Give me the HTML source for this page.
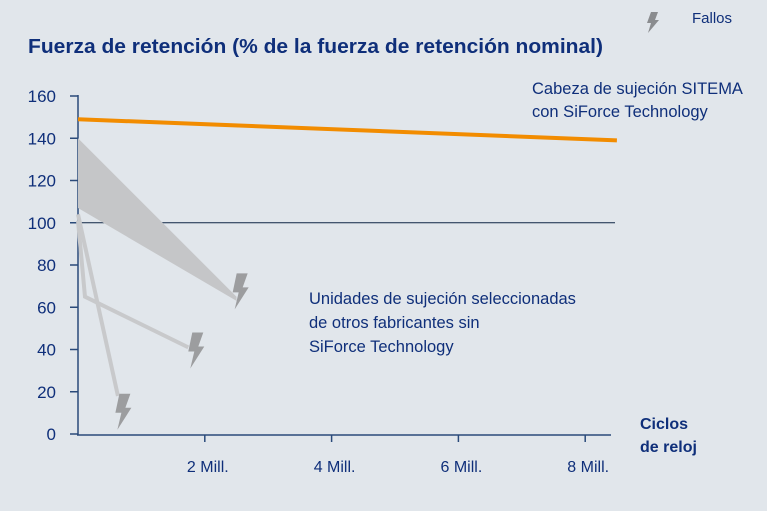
<!DOCTYPE html>
<html><head><meta charset="utf-8"><style>
html,body{margin:0;padding:0;background:#e1e6eb;}
svg{display:block;font-family:"Liberation Sans",sans-serif;}
</style></head><body>
<svg width="767" height="511" viewBox="0 0 767 511">
<rect width="767" height="511" fill="#e1e6eb"/>
<text x="28" y="53" font-size="20.5" font-weight="bold" fill="#0f2f7a" textLength="575" lengthAdjust="spacingAndGlyphs">Fuerza de retención (% de la fuerza de retención nominal)</text>
<g id="legend">
<polygon points="651,12 658,12 655,20 659,20 648,33 651,23 647,23" fill="#8a8c8f"/>
<text x="692" y="23" font-size="15" fill="#0f2f7a">Fallos</text>
</g>
<g id="axes"></g>
<g id="marks"></g>
<text x="532" y="94" font-size="16.5" fill="#0f2f7a">Cabeza de sujeción SITEMA</text>
<text x="532" y="117" font-size="16.5" fill="#0f2f7a">con SiForce Technology</text>
<text x="309" y="304" font-size="16.5" fill="#0f2f7a">Unidades de sujeción seleccionadas</text>
<text x="309" y="328" font-size="16.5" fill="#0f2f7a">de otros fabricantes sin</text>
<text x="309" y="352" font-size="16.5" fill="#0f2f7a">SiForce Technology</text>
<text x="640" y="429" font-size="16" font-weight="bold" fill="#0f2f7a">Ciclos</text>
<text x="640" y="452" font-size="16" font-weight="bold" fill="#0f2f7a">de reloj</text>
</svg>
<script>
const yTicks=[0,20,40,60,80,100,120,140,160];
const xTicks=[2,4,6,8];
const xTickLabels=["2  Mill.","4  Mill.","6  Mill.","8  Mill."];
const sitemaX=[0,8.5];
const sitemaY=[149,139];
const bandUpperX=[0,2.5];
const bandUpperY=[140,65];
const bandLowerX=[0,2.5];
const bandLowerY=[107,63];
const failA_X=[0,0.11,1.74];
const failA_Y=[101,65,41];
const failB_X=[0,0.63];
const failB_Y=[104,18];
const failPointsX=[2.55,1.85,0.7];
const failPointsY=[68,40,11];
const X=v=>78+v*63.4;
const Y=v=>434-v*2.1125;
const NS="http://www.w3.org/2000/svg";
const axes=document.getElementById('axes'),marks=document.getElementById('marks');
function mk(p,tag,attrs){const e=document.createElementNS(NS,tag);for(const k in attrs)e.setAttribute(k,attrs[k]);p.appendChild(e);return e;}
let e;
e=mk(axes,'line',{x1:78,y1:Y(160)-1,x2:78,y2:435,stroke:'#2a4a7a','stroke-width':1.5});


e=mk(axes,'line',{x1:77,y1:435,x2:611,y2:435,stroke:'#2a4a7a','stroke-width':1.5});


e=mk(axes,'line',{x1:78,y1:Y(100),x2:615,y2:Y(100),stroke:'#0f2545','stroke-width':1});


yTicks.forEach(t=>{
 e=mk(axes,'line',{x1:70,y1:Y(t),x2:78,y2:Y(t),stroke:'#2a4a7a','stroke-width':1.5});
 
 
 e=mk(axes,'text',{x:56,y:Y(t)+6,'font-size':17,fill:'#0f2f7a','text-anchor':'end'});
 e.textContent=t;
 
 
});
xTicks.forEach((t,i)=>{
 e=mk(axes,'line',{x1:X(t),y1:435,x2:X(t),y2:442,stroke:'#2a4a7a','stroke-width':1.5});
 
 
 e=mk(axes,'text',{x:X(t)+3,y:472,'font-size':16,fill:'#0f2f7a','text-anchor':'middle','xml:space':'preserve'});
 e.textContent=xTickLabels[i];
 
 
});
let pts=bandUpperX.map((x,i)=>X(x)+','+Y(bandUpperY[i]));
pts=pts.concat(bandLowerX.map((x,i)=>X(x)+','+Y(bandLowerY[i])).reverse());
e=mk(marks,'polygon',{points:pts.join(' '),fill:'#c5c6c8'});


[[failA_X,failA_Y,'competitor-line-a'],[failB_X,failB_Y,'competitor-line-b']].forEach(([xs,ys,n])=>{
 e=mk(marks,'polyline',{points:xs.map((x,i)=>X(x)+','+Y(ys[i])).join(' '),fill:'none',stroke:'#c8c9cb','stroke-width':4});
 
 
});
e=mk(marks,'polyline',{points:sitemaX.map((x,i)=>X(x)+','+Y(sitemaY[i])).join(' '),fill:'none',stroke:'#f28c00','stroke-width':4});


failPointsX.forEach((x,i)=>{
 const cx=X(x),cy=Y(failPointsY[i]);
 e=mk(marks,'polygon',{points:[[-3,-17],[8,-17],[3,-3],[9,-3],[-5,19],[-1,2],[-7,2]].map(p=>(cx+p[0])+','+(cy+p[1])).join(' '),fill:'#9c9d9f'});
 
 
});
</script>
</body></html>
